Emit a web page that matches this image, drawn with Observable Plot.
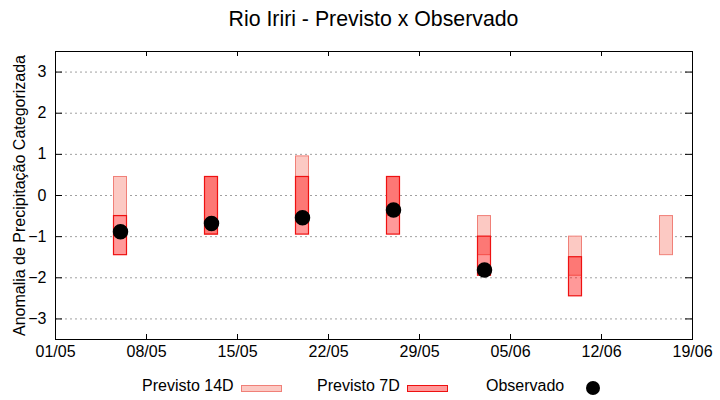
<!DOCTYPE html>
<html>
<head>
<meta charset="utf-8">
<script src="https://cdn.jsdelivr.net/npm/d3@7"></script>
<script src="https://cdn.jsdelivr.net/npm/@observablehq/plot@0.6"></script>
<style>
  body { margin: 0; background: #fff; font-family: "Liberation Sans", Arial, sans-serif; }
  #wrap { position: relative; width: 720px; height: 400px; overflow: hidden; }
  #title { position: absolute; left: 55px; width: 637px; top: 9px; text-align: center; font-size: 21.3px; line-height: 21px; color: #000; white-space: nowrap; }
  .lg { position: absolute; font-size: 16px; line-height: 16px; top: 378px; color: #000; white-space: nowrap; }
  .sw { position: absolute; box-sizing: border-box; }
  #chart { position: absolute; left: 0; top: 0; }
</style>
</head>
<body>
<div id="wrap">
  <div id="chart"></div>
  <div id="title">Rio Iriri - Previsto x Observado</div>
  <div class="lg" style="left:142px">Previsto 14D</div>
  <div class="sw" style="left:241px; top:385px; width:41px; height:7px; background:#fcc9c3; border:1px solid #f08078;"></div>
  <div class="lg" style="left:317px">Previsto 7D</div>
  <div class="sw" style="left:407px; top:385px; width:41px; height:7px; background:#ff9999; border:1px solid #ee1111;"></div>
  <div class="lg" style="left:486px">Observado</div>
  <div class="sw" style="left:586px; top:381px; width:14px; height:14px; border-radius:50%; background:#000;"></div>
</div>
<script>
// Data
const weeks   = ["2023-05-06","2023-05-13","2023-05-20","2023-05-27","2023-06-03","2023-06-10","2023-06-17"];
const p14Low  = [-0.5, -0.95, -0.5, -0.5, -1.45, -1.95, -1.45];
const p14High = [0.45, 0.45, 0.95, 0.45, -0.5, -1.0, -0.5];
const p7Low   = [-1.45, -0.95, -0.95, -0.95, -1.95, -2.45, null];
const p7High  = [-0.5, 0.45, 0.45, 0.45, -1.0, -1.5, null];
const observed = [-0.88, -0.68, -0.54, -0.35, -1.81, null, null];
const xTicks = ["2023-05-01","2023-05-08","2023-05-15","2023-05-22","2023-05-29","2023-06-05","2023-06-12","2023-06-19"];
const yTicks = [-3, -2, -1, 0, 1, 2, 3];
const yLabel = "Anomalia de Precipitação Categorizada";

const HALF = 12 * 3600e3;
const rows = weeks.map((w, i) => ({
  date: new Date(w),
  p14Low: p14Low[i], p14High: p14High[i],
  p7Low: p7Low[i], p7High: p7High[i],
  obs: observed[i]
}));
const r14 = rows.filter(d => d.p14Low != null);
const r7 = rows.filter(d => d.p7Low != null);
const rObs = rows.filter(d => d.obs != null);
const xT = xTicks.map(s => new Date(s));

const W = 720, H = 400, ML = 55, MR = 28, MT = 51, MB = 61;
const fw = W - ML - MR, fh = H - MT - MB;

const chart = Plot.plot({
  width: W, height: H,
  marginLeft: ML, marginRight: MR, marginTop: MT, marginBottom: MB,
  style: { fontFamily: "'Liberation Sans', Arial, sans-serif", fontSize: "16px", color: "#000", background: "#fff" },
  x: { type: "utc", domain: [xT[0], xT[xT.length - 1]] },
  y: { domain: [-3.5, 3.5] },
  marks: [
    Plot.gridY(yTicks, { stroke: "#a0a0a0", strokeOpacity: 1, strokeDasharray: "2,3", strokeWidth: 1 }),
    Plot.rect(r14, { x1: d => new Date(+d.date - HALF), x2: d => new Date(+d.date + HALF), y1: "p14Low", y2: "p14High", fill: "#fcc9c3", stroke: "#f08078", strokeWidth: 1 }),
    Plot.rect(r7, { x1: d => new Date(+d.date - HALF), x2: d => new Date(+d.date + HALF), y1: "p7Low", y2: "p7High", fill: "#ff0000", fillOpacity: 0.4, stroke: "#ee1111", strokeWidth: 1.2 }),
    Plot.dot(rObs, { x: "date", y: "obs", r: 7, fill: "#000", stroke: "#000" }),
    // inward tick marks (left, right, bottom, top)
    Plot.tickY(yTicks, { y: d => d, stroke: "#000", insetRight: fw - 7 }),
    Plot.tickY(yTicks, { y: d => d, stroke: "#000", insetLeft: fw - 7 }),
    Plot.tickX(xT, { x: d => d, stroke: "#000", insetTop: fh - 5 }),
    Plot.tickX(xT, { x: d => d, stroke: "#000", insetBottom: fh - 5 }),
    Plot.axisY(yTicks, { tickSize: 0, tickPadding: 9, label: null, fill: "#000" }),
    Plot.axisX(xT, { tickSize: 0, tickPadding: 6, tickFormat: d3.utcFormat("%d/%m"), label: null, fill: "#000" }),
    Plot.text([yLabel], { frameAnchor: "left", dx: -36, rotate: -90, textAnchor: "middle", lineAnchor: "middle", fontSize: 16, fill: "#000" }),
    Plot.frame({ stroke: "#000", strokeWidth: 1 })
  ]
});
document.getElementById("chart").appendChild(chart);
</script>
</body>
</html>
